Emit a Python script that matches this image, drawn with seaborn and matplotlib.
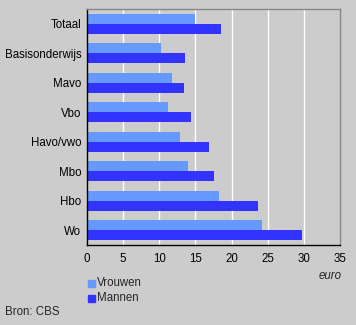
import matplotlib
matplotlib.use("Agg")
import matplotlib.pyplot as plt
import seaborn as sns
import pandas as pd
from matplotlib.patches import Rectangle

categories = ["Totaal", "Basisonderwijs", "Mavo", "Vbo", "Havo/vwo", "Mbo", "Hbo", "Wo"]
vrouwen = [14.9, 10.2, 11.8, 11.2, 12.9, 14.0, 18.3, 24.2]
mannen = [18.5, 13.6, 13.4, 14.4, 16.9, 17.6, 23.6, 29.7]
series = ["Vrouwen", "Mannen"]
colors = ["#6699FF", "#3333FF"]
xticks = [0, 5, 10, 15, 20, 25, 30, 35]

df = pd.DataFrame({
    "cat": categories * 2,
    "val": vrouwen + mannen,
    "serie": [series[0]] * len(categories) + [series[1]] * len(categories),
})

sns.set_theme(style="white")
plt.rcParams["font.family"] = ["Liberation Sans", "DejaVu Sans"]
fs = 8.3

bg = "#CCCCCC"
fig = plt.figure(figsize=(3.56, 3.25), dpi=100, facecolor=bg)
ax = fig.add_axes([87 / 356, 1 - 245 / 325, 253 / 356, 236 / 325])
ax.set_facecolor(bg)

sns.barplot(data=df, y="cat", x="val", hue="serie", orient="h",
            palette=colors, order=categories, hue_order=series,
            width=0.68, saturation=1, ax=ax, legend=False, zorder=3,
            linewidth=0, edgecolor="none")

ax.set_xlim(0, 35)
ax.set_xticks(xticks)
ax.set_xticklabels([str(t) for t in xticks], fontsize=fs, color="black")
ax.set_yticks(range(len(categories)))
ax.set_yticklabels(categories, fontsize=fs, color="black")
ax.set_ylim(len(categories) - 0.5, -0.5)
ax.set_xlabel("")
ax.set_ylabel("")
for x in xticks[1:-1]:
    ax.axvline(x, color="white", lw=1, zorder=1)

ax.tick_params(axis="x", direction="out", length=3, width=1, color="black", pad=3)
ax.tick_params(axis="y", length=0, pad=4)

for s in ["left", "bottom"]:
    ax.spines[s].set_color("black")
    ax.spines[s].set_linewidth(1)
for s in ["top", "right"]:
    ax.spines[s].set_color("#888888")
    ax.spines[s].set_linewidth(1)
for sp in ax.spines.values():
    sp.set_zorder(5)

fig.text(342 / 356, 1 - 276 / 325, "euro", fontsize=fs, style="italic",
         ha="right", va="center")

for i, (name, c) in enumerate(zip(series, colors)):
    y = 283 + i * 15
    fig.patches.append(Rectangle((88 / 356, 1 - (y + 3.5) / 325), 7 / 356, 7 / 325,
                                 transform=fig.transFigure, color=c, figure=fig))
    fig.text(97 / 356, 1 - y / 325, name, fontsize=fs, ha="left", va="center")

fig.text(5 / 356, 1 - 312 / 325, "Bron: CBS", fontsize=fs, ha="left", va="center")

fig.savefig("out.png", dpi=100, facecolor=bg)
